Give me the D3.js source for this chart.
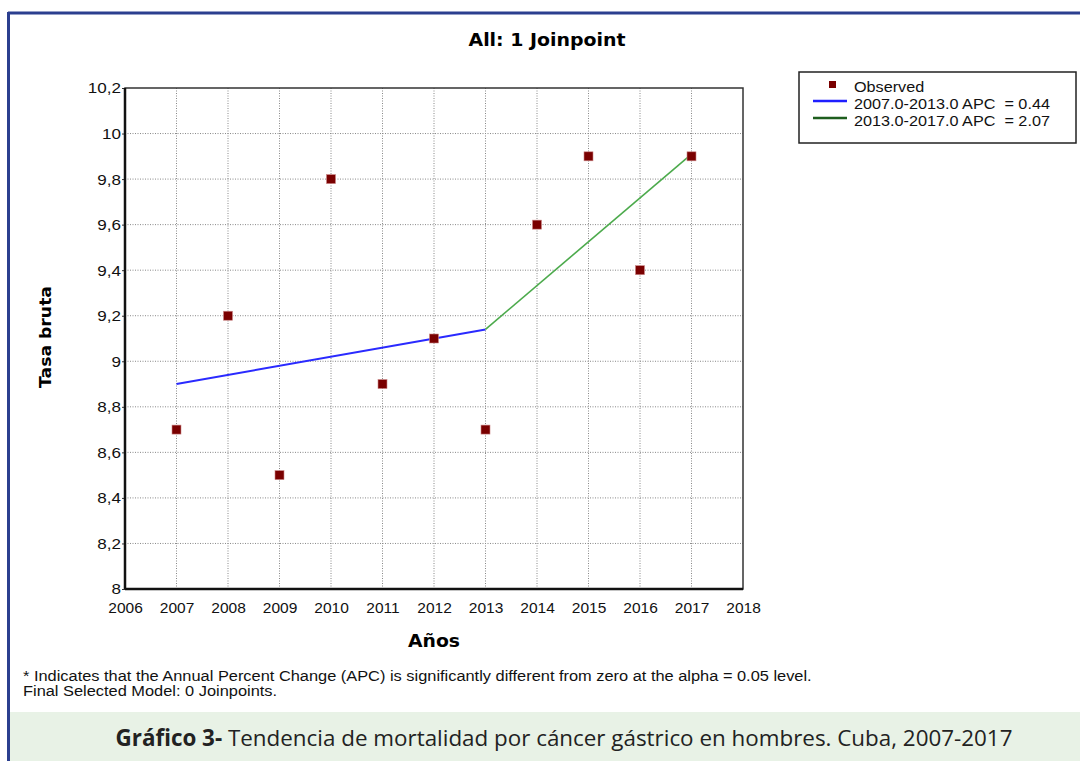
<!DOCTYPE html>
<html>
<head>
<meta charset="utf-8">
<script src="https://cdn.jsdelivr.net/npm/d3@7"></script>
<style>
  body { margin: 0; background: #fff; }
  svg { display: block; }
  text { white-space: pre; }
</style>
</head>
<body>
<div id="chart"></div>
<script>
// data
var years = [2007, 2008, 2009, 2010, 2011, 2012, 2013, 2014, 2015, 2016, 2017];
var observed = [8.7, 9.2, 8.5, 9.8, 8.9, 9.1, 8.7, 9.6, 9.9, 9.4, 9.9];
var seg1Years = [2007, 2013];
var seg1Values = [8.90, 9.14];
var seg2Years = [2013, 2017];
var seg2Values = [9.14, 9.91];
var xTicks = [2006, 2007, 2008, 2009, 2010, 2011, 2012, 2013, 2014, 2015, 2016, 2017, 2018];
var yTicks = [8, 8.2, 8.4, 8.6, 8.8, 9, 9.2, 9.4, 9.6, 9.8, 10, 10.2];
var legendLabels = ["Observed", "2007.0-2013.0 APC  = 0.44", "2013.0-2017.0 APC  = 2.07"];

var W = 1080, H = 761;
var margin = {top: 88, right: 337, bottom: 172, left: 125},
    width = W - margin.left - margin.right,
    height = H - margin.top - margin.bottom;

// the source picture is a bit wider than the fonts here, stretch text horizontally
function stretch(sel, k) {
  sel.each(function() {
    var w = this.getComputedTextLength();
    d3.select(this).attr("textLength", w * k).attr("lengthAdjust", "spacingAndGlyphs");
  });
}

var root = d3.select("#chart").append("svg")
  .attr("width", W)
  .attr("height", H);

// page frame
root.append("rect").attr("x", 0).attr("y", 0).attr("width", W).attr("height", H).attr("fill", "#fff");
root.append("line").attr("x1", 8).attr("x2", W).attr("y1", 13).attr("y2", 13)
  .attr("stroke", "#2b3f8f").attr("stroke-width", 3);
root.append("line").attr("x1", 8.5).attr("x2", 8.5).attr("y1", 12).attr("y2", H)
  .attr("stroke", "#2b3f8f").attr("stroke-width", 3);

// caption band
root.append("rect").attr("x", 10).attr("y", 712).attr("width", W - 10).attr("height", H - 712)
  .attr("fill", "#e8f2e6");
var cap = root.append("text")
  .attr("x", 564).attr("y", 746)
  .attr("text-anchor", "middle")
  .style("font-family", "'Open Sans', sans-serif")
  .style("font-size", "22.4px")
  .style("fill", "#222");
cap.append("tspan").style("font-weight", "bold").text("Gráfico 3-");
cap.append("tspan").text(" Tendencia de mortalidad por cáncer gástrico en hombres. Cuba, 2007-2017");

var svg = root.append("g")
  .attr("transform", "translate(" + margin.left + "," + margin.top + ")");

var x = d3.scaleLinear().domain([2006, 2018]).range([0, width]);
var y = d3.scaleLinear().domain([8, 10.2]).range([height, 0]);

// grid
svg.append("g").selectAll("line").data(xTicks.slice(1, -1)).enter().append("line")
  .attr("x1", function(d) { return x(d); }).attr("x2", function(d) { return x(d); })
  .attr("y1", 0).attr("y2", height)
  .attr("stroke", "#888").attr("stroke-width", 1).attr("stroke-dasharray", "1,1.5");
svg.append("g").selectAll("line").data(yTicks.slice(1, -1)).enter().append("line")
  .attr("x1", 0).attr("x2", width)
  .attr("y1", function(d) { return y(d); }).attr("y2", function(d) { return y(d); })
  .attr("stroke", "#888").attr("stroke-width", 1).attr("stroke-dasharray", "1,1.5");

// axes
var fmtY = function(d) { return String(d).replace(".", ","); };
var xAxis = svg.append("g")
  .attr("transform", "translate(0," + height + ")")
  .call(d3.axisBottom(x).tickValues(xTicks).tickFormat(d3.format("d")).tickSize(0).tickPadding(13));
var yAxis = svg.append("g")
  .call(d3.axisLeft(y).tickValues(yTicks).tickFormat(fmtY).tickSize(3).tickPadding(1));
[xAxis, yAxis].forEach(function(a) {
  a.select(".domain").remove();
  a.selectAll("text").style("font-family", "'Liberation Sans', Arial, sans-serif")
    .style("font-size", "15.5px").style("fill", "#111");
  a.selectAll("line").attr("stroke", "#333");
});
stretch(yAxis.selectAll("text"), 1.1);

// plot border
svg.append("rect").attr("x", 0).attr("y", 0).attr("width", width).attr("height", height)
  .attr("fill", "none").attr("stroke", "#333").attr("stroke-width", 1.5);
svg.append("line").attr("x1", 0).attr("x2", 0).attr("y1", 0).attr("y2", height)
  .attr("stroke", "#111").attr("stroke-width", 2.5);
svg.append("line").attr("x1", 0).attr("x2", width).attr("y1", height).attr("y2", height)
  .attr("stroke", "#111").attr("stroke-width", 2.5);

// fitted segments
var line = d3.line().x(function(d) { return x(d[0]); }).y(function(d) { return y(d[1]); });
svg.append("path").datum(d3.zip(seg1Years, seg1Values)).attr("d", line)
  .attr("fill", "none").attr("stroke", "#2a2aff").attr("stroke-width", 2);
svg.append("path").datum(d3.zip(seg2Years, seg2Values)).attr("d", line)
  .attr("fill", "none").attr("stroke", "#4caa4c").attr("stroke-width", 1.6);

// observed points
svg.append("g").selectAll("rect").data(d3.zip(years, observed)).enter().append("rect")
  .attr("x", function(d) { return x(d[0]) - 4.5; })
  .attr("y", function(d) { return y(d[1]) - 4.5; })
  .attr("width", 9).attr("height", 9)
  .attr("fill", "#7a0000").attr("stroke", "#c88").attr("stroke-width", 0.6);

// titles
var title = root.append("text").attr("x", 547).attr("y", 46).attr("text-anchor", "middle")
  .style("font-family", "'DejaVu Sans', Verdana, sans-serif").style("font-weight", "bold")
  .style("font-size", "17px").text("All: 1 Joinpoint");
title.attr("textLength", 157).attr("lengthAdjust", "spacingAndGlyphs");
var ylab = root.append("text").attr("transform", "translate(51,337) rotate(-90)").attr("text-anchor", "middle")
  .style("font-family", "'DejaVu Sans', Verdana, sans-serif").style("font-weight", "bold")
  .style("font-size", "16px").text("Tasa bruta");
ylab.attr("textLength", 102).attr("lengthAdjust", "spacingAndGlyphs");
var xlab = root.append("text").attr("x", 434).attr("y", 647).attr("text-anchor", "middle")
  .style("font-family", "'DejaVu Sans', Verdana, sans-serif").style("font-weight", "bold")
  .style("font-size", "17px").text("Años");
xlab.attr("textLength", 52).attr("lengthAdjust", "spacingAndGlyphs");

// legend
var lg = root.append("g").attr("transform", "translate(799,72)");
lg.append("rect").attr("width", 277).attr("height", 71)
  .attr("fill", "#fff").attr("stroke", "#222").attr("stroke-width", 1.5);
lg.append("rect").attr("x", 30).attr("y", 9).attr("width", 7).attr("height", 7).attr("fill", "#7a0000");
lg.append("line").attr("x1", 14).attr("x2", 48).attr("y1", 29).attr("y2", 29)
  .attr("stroke", "#1f1fff").attr("stroke-width", 2.5);
lg.append("line").attr("x1", 14).attr("x2", 48).attr("y1", 46).attr("y2", 46)
  .attr("stroke", "#1e5e1e").attr("stroke-width", 2.5);
var legText = lg.selectAll("text.lab").data(legendLabels).enter().append("text")
  .attr("class", "lab")
  .attr("x", 55).attr("y", function(d, i) { return 20 + i * 17; })
  .style("font-family", "'Liberation Sans', Arial, sans-serif").style("font-size", "15px")
  .style("fill", "#111")
  .text(function(d) { return d; });
stretch(legText, 1.08);

// footnote
var foot = ["* Indicates that the Annual Percent Change (APC) is significantly different from zero at the alpha = 0.05 level.",
            "Final Selected Model: 0 Joinpoints."];
var footText = root.selectAll("text.foot").data(foot).enter().append("text")
  .attr("class", "foot")
  .attr("x", 23).attr("y", function(d, i) { return 681 + i * 15; })
  .style("font-family", "'Liberation Sans', Arial, sans-serif").style("font-size", "14px")
  .style("fill", "#111")
  .text(function(d) { return d; });
stretch(footText, 1.17);
</script>
</body>
</html>
